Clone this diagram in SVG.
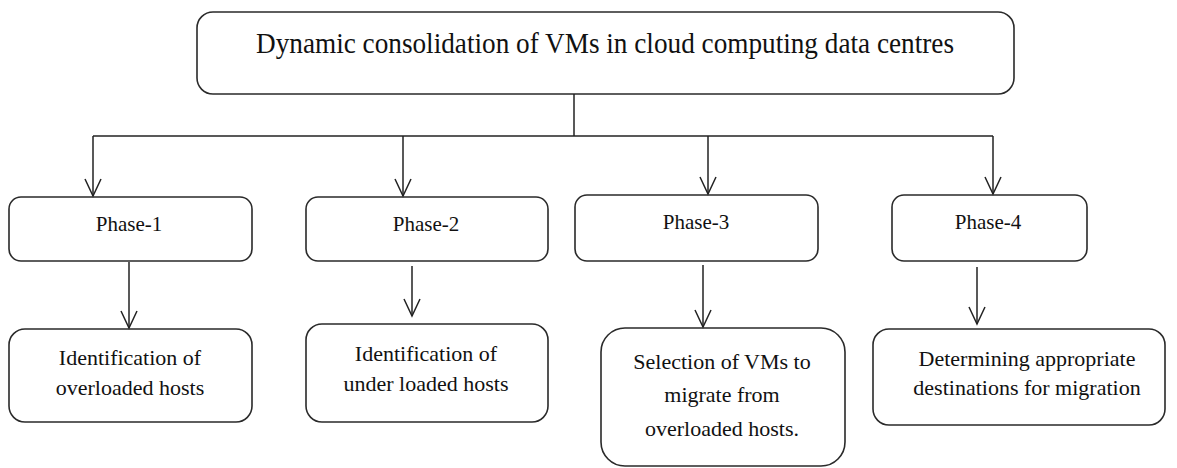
<svg xmlns="http://www.w3.org/2000/svg" width="1177" height="468" viewBox="0 0 1177 468">
  <style>
    .box { fill: #ffffff; stroke: #2a2a2a; stroke-width: 1.6; }
    .title { font-family: "Liberation Serif", "Times New Roman", serif; font-size: 29px; fill: #111; }
    .lbl { font-family: "Liberation Serif", "Times New Roman", serif; font-size: 21px; fill: #111; text-anchor: middle; }
    .txt { font-family: "Liberation Serif", "Times New Roman", serif; font-size: 22px; fill: #111; text-anchor: middle; }
    .conn { fill: none; stroke: #222; stroke-width: 1.5; }
  </style>
  <defs>
    <marker id="arrow" markerUnits="userSpaceOnUse" viewBox="-20 -11 22 22" markerWidth="22" markerHeight="22" refX="0" refY="0" orient="auto">
      <path d="M -17 -8 L 0 0 L -17 8" fill="none" stroke="#222" stroke-width="1.5"/>
    </marker>
  </defs>
  <rect width="1177" height="468" fill="#ffffff"/>

  <g id="root">
    <rect class="box" x="197" y="12" width="817" height="82" rx="16"/>
    <text class="title" x="256" y="53" textLength="698" lengthAdjust="spacingAndGlyphs">Dynamic consolidation of VMs in cloud computing data centres</text>
  </g>

  <g id="phase1">
    <rect class="box" x="9" y="197" width="243" height="64" rx="12"/>
    <text class="lbl" x="129" y="231">Phase-1</text>
  </g>
  <g id="phase2">
    <rect class="box" x="306" y="197" width="242" height="64" rx="12"/>
    <text class="lbl" x="426" y="231">Phase-2</text>
  </g>
  <g id="phase3">
    <rect class="box" x="575" y="195" width="243" height="66" rx="12"/>
    <text class="lbl" x="696" y="229">Phase-3</text>
  </g>
  <g id="phase4">
    <rect class="box" x="892" y="195" width="195" height="66" rx="12"/>
    <text class="lbl" x="988" y="229">Phase-4</text>
  </g>

  <g id="task1">
    <rect class="box" x="9" y="329" width="243" height="93" rx="16"/>
    <text class="txt" x="130" y="365">Identification of</text>
    <text class="txt" x="130" y="395">overloaded hosts</text>
  </g>
  <g id="task2">
    <rect class="box" x="306" y="324" width="242" height="98" rx="16"/>
    <text class="txt" x="426" y="361">Identification of</text>
    <text class="txt" x="426" y="391">under loaded hosts</text>
  </g>
  <g id="task3">
    <rect class="box" x="601" y="328" width="244" height="138" rx="24"/>
    <text class="txt" x="722" y="369">Selection of VMs to</text>
    <text class="txt" x="722" y="402">migrate from</text>
    <text class="txt" x="722" y="436">overloaded hosts.</text>
  </g>
  <g id="task4">
    <rect class="box" x="873" y="329" width="292" height="96" rx="16"/>
    <text class="txt" x="1027" y="366">Determining appropriate</text>
    <text class="txt" x="1027" y="395">destinations for migration</text>
  </g>

  <g id="connectors">
    <path class="conn" d="M 574 94 L 574 136"/>
    <path class="conn" d="M 93 136 L 993 136"/>
    <path class="conn" d="M 93 136 L 93 196" marker-end="url(#arrow)"/>
    <path class="conn" d="M 403 136 L 403 196" marker-end="url(#arrow)"/>
    <path class="conn" d="M 708 136 L 708 194" marker-end="url(#arrow)"/>
    <path class="conn" d="M 993 136 L 993 194" marker-end="url(#arrow)"/>
    <path class="conn" d="M 129 262 L 129 328" marker-end="url(#arrow)"/>
    <path class="conn" d="M 412 266 L 412 316" marker-end="url(#arrow)"/>
    <path class="conn" d="M 703 265 L 703 327" marker-end="url(#arrow)"/>
    <path class="conn" d="M 977 267 L 977 324" marker-end="url(#arrow)"/>
  </g>
</svg>
